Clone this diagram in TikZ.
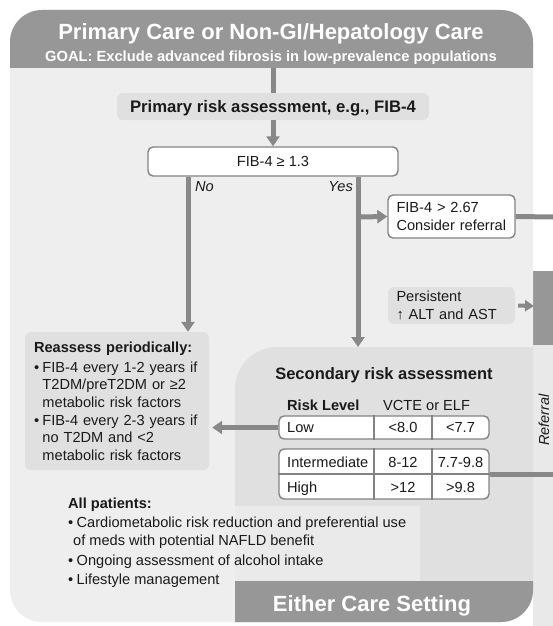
\documentclass[tikz,border=0pt]{standalone}
\usepackage{fontspec}
\setmainfont{Liberation Sans}
\usetikzlibrary{arrows.meta}

\definecolor{hdrgray}{HTML}{979797}
\definecolor{panelbg}{HTML}{EEEEEE}
\definecolor{secbg}{HTML}{E0E0E0}
\definecolor{stripbg}{HTML}{E9E9E9}
\definecolor{linegray}{HTML}{888888}
\definecolor{boxline}{HTML}{838383}
\definecolor{boxfill}{HTML}{E0E0E0}
\definecolor{inktext}{HTML}{1A1A1A}

\newcommand{\bodyfont}{\fontsize{14.6}{17.4}\selectfont}
\newcommand{\bulletmark}{\makebox[8.5pt][l]{•}}
\newcommand{\contind}{\hspace*{8.5pt}}

\tikzset{
  conn/.style={draw=linegray, line width=5pt},
  arrowed/.style={-{Triangle[width=13pt,length=10pt]}},
  wbox/.style={draw=boxline, line width=1.4pt, fill=white, rounded corners=5pt, inner sep=0pt},
  gbox/.style={fill=boxfill, rounded corners=6pt, inner sep=0pt},
  txt/.style={text=inktext, font=\bodyfont, inner sep=0pt},
  divider/.style={draw=boxline, line width=1.4pt},
}

\begin{document}
\begin{tikzpicture}[x=1pt,y=-1pt]
\useasboundingbox (0,0) rectangle (553,626);
\fill[white] (0,0) rectangle (553,626);

% strip beside the panel
\fill[stripbg] (533,345) rectangle (553,626);
\fill[hdrgray] (533,271) rectangle (553,345);

% main panel with header, secondary area and bottom band
\fill[panelbg, rounded corners=32pt] (10,10) rectangle (533,622);
\begin{scope}
  \clip[rounded corners=32pt] (10,10) rectangle (533,622);
  \fill[hdrgray] (0,0) rectangle (553,68);
  \fill[secbg, rounded corners=42pt] (235,347) rectangle (620,700);
  \fill[panelbg, opacity=0.75] (235,506) rectangle (420,581);
  \fill[hdrgray] (235,581) rectangle (553,626);
\end{scope}

% header texts
\node[text=white, inner sep=0pt, anchor=base, font=\fontsize{22}{24}\selectfont\bfseries] (title) at (271,40) {Primary Care or Non-GI/Hepatology Care};
\node[text=white, inner sep=0pt, anchor=base, font=\fontsize{14.7}{16}\selectfont\bfseries] (goal) at (271,61) {GOAL: Exclude advanced fibrosis in low-prevalence populations};
\node[text=white, inner sep=0pt, anchor=base, font=\fontsize{22}{24}\selectfont\bfseries] (either) at (372,611) {Either Care Setting};

% flow boxes
\node[gbox, minimum width=312pt, minimum height=27pt, text height=12pt, text depth=0pt, text=inktext, font=\fontsize{16.7}{18}\selectfont\bfseries] (pra) at (273,106.5) {Primary risk assessment, e.g., FIB-4};
\node[wbox, minimum width=250pt, minimum height=29pt, text height=10.5pt, text depth=0pt, text=inktext, font=\bodyfont] (fib) at (273,161.5) {FIB-4 ≥ 1.3};
\node[wbox, minimum width=127pt, minimum height=43pt, text width=110pt, align=left, text=inktext, font=\bodyfont] (refbox) at (451.5,216.5) {FIB-4 > 2.67\\Consider referral};
\node[gbox, minimum width=127pt, minimum height=37pt, text width=110pt, align=left, text=inktext, font=\bodyfont] (alt) at (451.5,305.5) {Persistent\\↑ ALT and AST};
\node[gbox, minimum width=184pt, minimum height=138pt, text width=166pt, align=left, text=inktext, font=\bodyfont] (reassess) at (117,401) {%
  \textbf{Reassess periodically:}\\[2.6pt]
  \bulletmark FIB-4 every 1-2 years if\\
  \contind T2DM/preT2DM or ≥2\\
  \contind metabolic risk factors\\[1pt]
  \bulletmark FIB-4 every 2-3 years if\\
  \contind no T2DM and <2\\
  \contind metabolic risk factors};

% branch labels
\node[txt, font=\bodyfont\itshape, anchor=base west] (nolbl) at (195,191) {No};
\node[txt, font=\bodyfont\itshape, anchor=base east] (yeslbl) at (353,191) {Yes};

% secondary risk assessment
\node[txt, anchor=base, font=\fontsize{16.5}{18}\selectfont\bfseries] (sectitle) at (384,379) {Secondary risk assessment};
\node[txt, anchor=base west, font=\bodyfont\bfseries] (riskhd) at (287,410) {Risk Level};
\node[txt, anchor=base west] (methhd) at (383,410) {VCTE or ELF};

\node[wbox, minimum width=210pt, minimum height=23pt] (low) at (384,427.5) {};
\draw[divider] ([xshift=-10pt]low.north) -- ([xshift=-10pt]low.south);
\draw[divider] ([xshift=48pt]low.north) -- ([xshift=48pt]low.south);
\node[txt, anchor=base west] (lowlbl) at (287,432) {Low};
\node[txt, anchor=base] (lowv) at (403,432) {<8.0};
\node[txt, anchor=base] (lowe) at (460.5,432) {<7.7};

\node[wbox, minimum width=210pt, minimum height=50pt] (ih) at (384,474) {};
\draw[divider] (ih.west) -- (ih.east);
\draw[divider] ([xshift=-10pt]ih.north) -- ([xshift=-10pt]ih.south);
\draw[divider] ([xshift=48pt]ih.north) -- ([xshift=48pt]ih.south);
\node[txt, anchor=base west] (intlbl) at (287,467) {Intermediate};
\node[txt, anchor=base] (intv) at (403,467) {8-12};
\node[txt, anchor=base] (inte) at (460.5,467) {7.7-9.8};
\node[txt, anchor=base west] (highlbl) at (287,492) {High};
\node[txt, anchor=base] (highv) at (403,492) {>12};
\node[txt, anchor=base] (highe) at (460.5,492) {>9.8};

% all patients
\node[txt, anchor=base west, font=\bodyfont\bfseries] (allhd) at (68,508) {All patients:};
\node[txt, anchor=base west] (all1) at (68,527.5) {\bulletmark Cardiometabolic risk reduction and preferential use};
\node[txt, anchor=base west] (all2) at (73,545) {of meds with potential NAFLD benefit};
\node[txt, anchor=base west] (all3) at (68,565) {\bulletmark Ongoing assessment of alcohol intake};
\node[txt, anchor=base west] (all4) at (68,584) {\bulletmark Lifestyle management};

% side label, reading upwards
\node[txt, rotate=90, anchor=base, font=\fontsize{14.5}{17}\selectfont\itshape] (referral) at (549,420) {Referral};

% connectors
\coordinate (hdrbase) at (273,68);
\coordinate (nofork) at ([xshift=-85pt]fib.south);
\coordinate (yesfork) at ([xshift=85pt]fib.south);
\coordinate (yesjoin) at (358,217);
\coordinate (sectop) at (358,347);
\coordinate (refout) at (553,217);
\coordinate (altin) at (534,306);
\coordinate (ihout) at (553,474);

\draw[conn] (hdrbase) -- (pra.north);
\draw[conn, arrowed] (pra.south) -- (fib.north);
\draw[conn, arrowed] (nofork) -- (nofork |- reassess.north);
\draw[conn, arrowed] (yesfork) -- (sectop);
\draw[conn, arrowed] (yesjoin) -- (refbox.west);
\draw[conn] (refbox.east) -- (refout);
\draw[conn, line width=4pt, -{Triangle[width=11pt,length=9pt]}, shorten <=3pt] (alt.east) -- (altin);
\draw[conn, arrowed, shorten >=3pt] (low.west) -- (low.west -| reassess.east);
\draw[conn] (ih.east) -- (ihout);
\end{tikzpicture}
\end{document}
